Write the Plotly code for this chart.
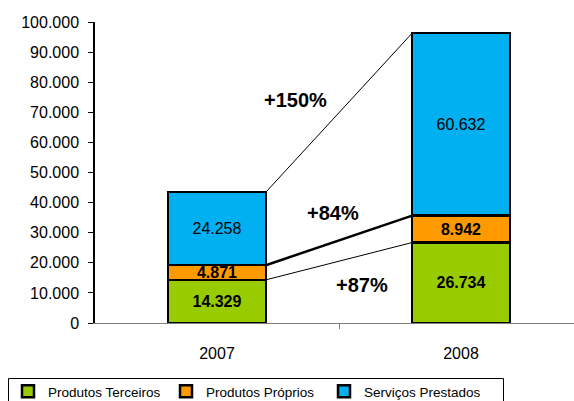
import plotly.graph_objects as go

years = ["2007", "2008"]
terceiros = [14329, 26734]
proprios = [4871, 8942]
servicos = [24258, 60632]
growth_labels = ["+87%", "+84%", "+150%"]
y_ticks = list(range(0, 100001, 10000))

x = [0, 1]
bw = 0.4
font = "Liberation Sans, Arial, sans-serif"

def fmt(v):
    return f"{v:,}".replace(",", ".")

fig = go.Figure()
series = [
    ("Produtos Terceiros", terceiros, "#99cc00", True),
    ("Produtos Próprios", proprios, "#ff9900", True),
    ("Serviços Prestados", servicos, "#00b0f0", False),
]
for name, vals, col, bold in series:
    txt = [f"<b>{fmt(v)}</b>" if bold else fmt(v) for v in vals]
    fig.add_trace(go.Bar(
        x=x, y=vals, name=name, width=bw,
        marker=dict(color=col, line=dict(color="black", width=2.5)),
        text=txt, textposition="inside", insidetextanchor="middle",
        textangle=0, textfont=dict(color="black", size=16, family=font),
        constraintext="none", hoverinfo="skip",
    ))

# connecting lines
c1 = [terceiros[i] for i in range(2)]
c2 = [terceiros[i] + proprios[i] for i in range(2)]
c3 = [c2[i] + servicos[i] for i in range(2)]
for ys, w in [(c1, 1), (c2, 2.5), (c3, 1)]:
    fig.add_trace(go.Scatter(
        x=[x[0] + bw / 2, x[1] - bw / 2], y=ys, mode="lines",
        line=dict(color="black", width=w), showlegend=False, hoverinfo="skip",
    ))

# growth annotations
ann_pos = [(0.595, 12700), (0.475, 36500), (0.32, 74000)]
for (ax, ay), t in zip(ann_pos, growth_labels):
    fig.add_annotation(x=ax, y=ay, text=f"<b>{t}</b>", showarrow=False,
                       font=dict(size=20, color="black", family=font))

L, T, B, W, H = 95, 22, 78, 574, 401
pw, ph = W - L, H - T - B

def px_x(p):
    return (p - L) / pw

def px_y(p):
    return (H - B - p) / ph

# legend frame
fig.add_shape(type="rect", xref="paper", yref="paper",
              x0=px_x(8.5), x1=px_x(503.5), y0=px_y(378.5), y1=px_y(412),
              line=dict(color="black", width=1), fillcolor="rgba(0,0,0,0)",
              layer="above")

fig.update_layout(
    width=W, height=H,
    margin=dict(l=L, r=0, t=T, b=B, autoexpand=False),
    paper_bgcolor="white", plot_bgcolor="white",
    barmode="stack", separators=",.",
    font=dict(family=font, size=16, color="black"),
    uniformtext=dict(minsize=16, mode="show"),
    legend=dict(
        orientation="h",
        x=px_x(8), y=px_y(376), xanchor="left", yanchor="top",
        borderwidth=0, bgcolor="rgba(0,0,0,0)",
        font=dict(size=13.5, family=font), entrywidth=113,
        traceorder="normal", indentation=0,
    ),
    showlegend=True,
)
fig.update_xaxes(
    range=[-0.5, -0.5 + 479 / 244], tickvals=x, ticktext=years,
    ticks="", showline=True, linecolor="#808080", linewidth=1,
    showgrid=False, zeroline=False, ticklabelstandoff=16,
    minor=dict(tickvals=[0.5], ticks="outside", ticklen=5, tickcolor="#808080"),
    tickfont=dict(size=16),
)
fig.update_yaxes(
    range=[0, 100000], tickvals=y_ticks, tickformat=",d",
    ticks="outside", ticklen=5, tickcolor="black", showline=True,
    linecolor="black", linewidth=1.5, showgrid=False, zeroline=False,
    tickfont=dict(size=16), ticklabelstandoff=6,
)

fig.write_html("out.html", config={"displayModeBar": False},
               post_script="document.body.style.margin='0';")
